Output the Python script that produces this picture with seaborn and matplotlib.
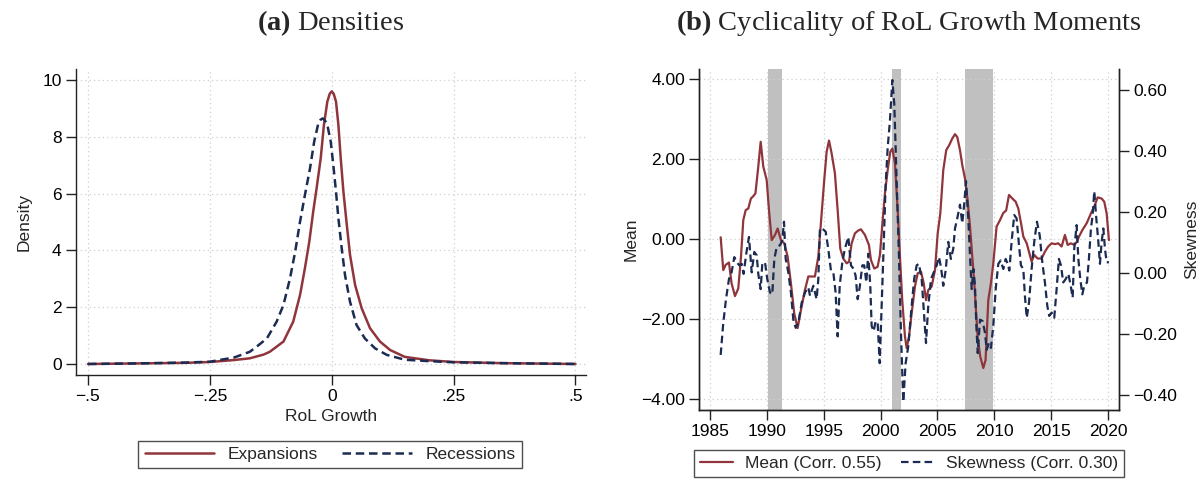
import numpy as np
import pandas as pd
import matplotlib
matplotlib.use("Agg")
import matplotlib.pyplot as plt
import seaborn as sns
from matplotlib.ticker import FixedLocator, FixedFormatter

# ---------------- data ----------------
# Panel (a): densities of RoL growth
growth_exp = [-0.5, -0.4, -0.3, -0.25, -0.2, -0.168, -0.14, -0.127, -0.099, -0.079, -0.065,
              -0.055, -0.046, -0.038, -0.031, -0.0226, -0.016, -0.009, -0.004, 0.0, 0.004,
              0.0088, 0.0137, 0.0185, 0.024, 0.031, 0.0376, 0.048, 0.0615, 0.0786, 0.099,
              0.12, 0.15, 0.2, 0.25, 0.35, 0.5]
dens_exp = [0.0, 0.02, 0.04, 0.07, 0.14, 0.2, 0.33, 0.43, 0.79, 1.49, 2.43,
            3.37, 4.31, 5.36, 6.19, 7.24, 8.42, 9.24, 9.52, 9.6, 9.52,
            9.24, 8.42, 7.24, 6.07, 4.89, 3.84, 2.78, 1.96, 1.26, 0.79,
            0.49, 0.25, 0.13, 0.07, 0.03, 0.0]

growth_rec = [-0.5, -0.4, -0.3, -0.25, -0.2, -0.168, -0.154, -0.133, -0.113, -0.099, -0.0855,
              -0.075, -0.065, -0.055, -0.0445, -0.036, -0.0275, -0.023, -0.0185, -0.014,
              -0.009, -0.002, 0.0033, 0.0088, 0.0137, 0.0205, 0.0273, 0.0376, 0.051, 0.068,
              0.089, 0.113, 0.15, 0.2, 0.25, 0.35, 0.5]
dens_rec = [0.0, 0.02, 0.05, 0.08, 0.23, 0.43, 0.61, 0.9, 1.49, 2.08, 3.02,
            3.95, 5.01, 5.95, 6.89, 7.83, 8.47, 8.6, 8.65, 8.58,
            8.42, 7.83, 7.0, 6.07, 5.13, 4.07, 3.13, 2.19, 1.37, 0.9,
            0.55, 0.32, 0.15, 0.1, 0.06, 0.03, 0.0]

# Panel (b): cyclicality of RoL growth moments
mean_year = [1985.94, 1986.17, 1986.38, 1986.67, 1986.9, 1987.2, 1987.49, 1987.73, 1987.93,
             1988.14, 1988.37, 1988.6, 1988.81, 1989.0, 1989.25, 1989.46, 1989.69, 1989.99,
             1990.19, 1990.43, 1990.72, 1990.95, 1991.24, 1991.53, 1991.83, 1992.12, 1992.41,
             1992.71, 1993.0, 1993.35, 1993.65, 1994.23, 1994.53, 1994.82, 1995.05, 1995.26,
             1995.47, 1995.7, 1995.99, 1996.23, 1996.46, 1996.72, 1997.02, 1997.23, 1997.46,
             1997.75, 1998.04, 1998.28, 1998.63, 1998.98, 1999.16, 1999.45, 1999.74, 1999.95,
             2000.19, 2000.39, 2000.63, 2000.86, 2001.04, 2001.27, 2001.51, 2001.71, 2001.91,
             2002.15, 2002.3, 2002.5, 2002.74, 2003.03, 2003.27, 2003.56, 2003.8, 2004.0,
             2004.2, 2004.5, 2004.79, 2005.03, 2005.26, 2005.52, 2005.78, 2006.05, 2006.31,
             2006.55, 2006.75, 2006.99, 2007.19, 2007.43, 2007.66, 2007.87, 2008.07, 2008.25,
             2008.4, 2008.54, 2008.77, 2009.04, 2009.24, 2009.48, 2009.71, 2009.92, 2010.21,
             2010.51, 2010.8, 2011.05, 2011.3, 2011.6, 2011.89, 2012.12, 2012.36, 2012.56,
             2012.86, 2013.06, 2013.29, 2013.52, 2013.82, 2014.17, 2014.46, 2014.75, 2015.05,
             2015.34, 2015.63, 2015.93, 2016.22, 2016.46, 2016.75, 2017.04, 2017.28, 2017.46,
             2017.75, 2018.13, 2018.51, 2018.8, 2019.1, 2019.45, 2019.68, 2019.89, 2020.09]
mean_val = [0.05, -0.77, -0.64, -0.58, -1.10, -1.42, -1.23, -0.43, 0.48,
            0.73, 0.77, 1.02, 1.08, 1.15, 1.82, 2.44, 1.82, 1.48,
            0.73, -0.02, 0.11, 0.27, -0.02, -0.10, -0.43, -1.10, -1.85,
            -2.22, -1.77, -1.27, -0.93, -0.93, -0.43, 0.65, 1.48, 2.19,
            2.47, 2.15, 1.65, 0.73, -0.23, -0.48, -0.60, -0.56, -0.10,
            0.15, 0.22, 0.25, 0.11, -0.14, -0.52, -0.73, -0.69, -0.39,
            0.48, 1.15, 1.73, 2.19, 2.27, 1.90, 0.73, -0.43, -1.52,
            -2.43, -2.72, -2.45, -1.85, -1.18, -0.85, -0.81, -1.10, -1.52,
            -1.27, -1.18, -0.77, 0.15, 0.65, 1.73, 2.23, 2.36, 2.52,
            2.63, 2.56, 2.23, 1.86, 1.52, 0.98, 0.32, -0.43, -1.10,
            -1.77, -2.43, -2.93, -3.22, -3.02, -1.52, -1.10, -0.60, 0.32,
            0.48, 0.66, 0.72, 1.11, 1.02, 0.94, 0.77, 0.40, 0.07,
            -0.10, -0.31, -0.56, -0.39, -0.48, -0.48, -0.31, -0.18, -0.10,
            -0.12, -0.10, -0.18, 0.11, -0.14, -0.10, -0.14, -0.06, 0.07,
            0.23, 0.40, 0.65, 0.82, 1.05, 1.02, 0.94, 0.65, -0.02]

skew_year = [1985.94, 1986.17, 1986.41, 1986.67, 1986.9, 1987.14, 1987.35, 1987.58, 1987.79,
             1987.96, 1988.19, 1988.43, 1988.67, 1988.9, 1989.11, 1989.25, 1989.46, 1989.6,
             1989.84, 1990.04, 1990.28, 1990.48, 1990.66, 1990.87, 1991.16, 1991.36, 1991.51,
             1991.66, 1991.89, 1992.12, 1992.33, 1992.54, 1992.77, 1993.07, 1993.36, 1993.65,
             1993.8, 1994.09, 1994.38, 1994.53, 1994.67, 1994.88, 1995.18, 1995.4, 1995.64,
             1995.85, 1996.05, 1996.23, 1996.41, 1996.64, 1996.87, 1997.17, 1997.4, 1997.64,
             1997.81, 1997.99, 1998.17, 1998.4, 1998.57, 1998.75, 1998.92, 1999.1, 1999.22,
             1999.4, 1999.57, 1999.75, 1999.93, 2000.1, 2000.28, 2000.45, 2000.63, 2000.83,
             2001.04, 2001.21, 2001.42, 2001.62, 2001.8, 2002.0, 2002.21, 2002.44, 2002.74,
             2002.96, 2003.18, 2003.38, 2003.62, 2003.82, 2004.0, 2004.2, 2004.44, 2004.68,
             2004.94, 2005.14, 2005.32, 2005.52, 2005.73, 2005.96, 2006.19, 2006.4, 2006.55,
             2006.75, 2006.99, 2007.19, 2007.37, 2007.52, 2007.72, 2007.9, 2008.02, 2008.17,
             2008.31, 2008.43, 2008.55, 2008.75, 2008.99, 2009.19, 2009.34, 2009.54, 2009.71,
             2009.92, 2010.13, 2010.36, 2010.57, 2010.8, 2011.01, 2011.18, 2011.33, 2011.53,
             2011.76, 2011.97, 2012.18, 2012.35, 2012.56, 2012.7, 2012.86, 2013.06, 2013.29,
             2013.52, 2013.76, 2014.0, 2014.23, 2014.46, 2014.67, 2014.84, 2015.05, 2015.28,
             2015.49, 2015.69, 2015.87, 2016.07, 2016.29, 2016.52, 2016.73, 2016.9, 2017.04,
             2017.25, 2017.4, 2017.57, 2017.75, 2017.92, 2018.16, 2018.33, 2018.51, 2018.66,
             2018.8, 2018.98, 2019.16, 2019.3, 2019.45, 2019.6, 2019.74, 2019.89, 2020.09]
skew_val = [-0.269, -0.164, -0.086, -0.020, 0.002, 0.052, 0.035, 0.025, 0.030,
            -0.003, 0.063, 0.118, 0.002, 0.069, 0.058, -0.003, -0.053, 0.030,
            0.035, -0.020, -0.064, -0.070, 0.046, 0.085, 0.091, 0.107, 0.168,
            0.046, 0.002, -0.064, -0.153, -0.180, -0.164, -0.097, -0.064, -0.047,
            -0.075, -0.042, -0.086, -0.020, 0.146, 0.146, 0.135, 0.080, 0.008,
            0.002, -0.064, -0.208, -0.042, 0.035, 0.080, 0.118, 0.025, 0.013,
            -0.009, -0.086, -0.047, 0.025, 0.025, -0.031, 0.063, -0.042, -0.174,
            -0.191, -0.158, -0.164, -0.296, -0.108, 0.091, 0.290, 0.411, 0.500,
            0.633, 0.555, 0.301, 0.058, -0.197, -0.423, -0.296, -0.241, -0.108,
            -0.020, 0.025, 0.030, -0.020, -0.130, -0.230, -0.108, -0.020, 0.002,
            0.025, 0.052, 0.019, -0.042, 0.008, 0.102, 0.046, 0.080, 0.146,
            0.179, 0.224, 0.163, 0.229, 0.301, 0.179, 0.035, -0.053, 0.013,
            -0.042, -0.174, -0.263, -0.153, -0.158, -0.197, -0.252, -0.230, -0.246,
            -0.174, -0.053, 0.030, 0.041, 0.013, 0.046, 0.030, 0.008, 0.102,
            0.190, 0.179, 0.091, 0.025, 0.013, -0.075, -0.147, -0.097, 0.013,
            0.102, 0.168, 0.124, 0.035, -0.031, -0.108, -0.141, -0.130, -0.147,
            -0.053, 0.046, 0.025, -0.031, -0.020, -0.003, -0.042, -0.081, 0.080,
            0.157, 0.046, -0.020, -0.070, -0.042, -0.031, 0.046, 0.146, 0.190,
            0.268, 0.179, 0.102, 0.030, 0.102, 0.146, 0.080, 0.035, 0.035]

recession_start = [1990.13, 2000.98, 2007.45]
recession_end = [1991.30, 2001.77, 2009.86]

x_ticks_a = [-0.5, -0.25, 0, 0.25, 0.5]
x_labels_a = ["\u2212.5", "\u2212.25", "0", ".25", ".5"]
y_ticks_a = [0, 2, 4, 6, 8, 10]
year_ticks = [1985, 1990, 1995, 2000, 2005, 2010, 2015, 2020]
mean_ticks = [-4, -2, 0, 2, 4]
skew_ticks = [-0.4, -0.2, 0.0, 0.2, 0.4, 0.6]

# ---------------- style ----------------
sns.set_theme(style="ticks")
plt.rcParams['font.family'] = ['Liberation Sans', 'DejaVu Sans']
plt.rcParams['mathtext.fontset'] = 'custom'
plt.rcParams['mathtext.rm'] = 'Liberation Serif'
plt.rcParams['mathtext.bf'] = 'Liberation Serif:bold'
plt.rcParams['axes.unicode_minus'] = True

RED = "#90353B"
NAVY = "#1C2B52"
GRID = "#cfcfcf"
FS = 12.5
DASH = (0, (3.4, 1.9))
LW = 1.6

fig = plt.figure(figsize=(12.03, 4.8), dpi=100)

def fmt(v, nd):
    s = f"{v:.{nd}f}"
    return s.replace("-", "\u2212")

def style_axes(ax):
    ax.tick_params(axis='both', which='major', direction='out', length=7, width=1,
                   labelsize=FS, color='#222222', labelcolor='black', pad=3)
    for s in ax.spines.values():
        s.set_linewidth(1.0)
        s.set_color('#222222')

# ---------------- panel (a) ----------------
ax1 = fig.add_axes([0.0628, 0.2188, 0.4243, 0.6375])
sns.lineplot(x=growth_exp, y=dens_exp, ax=ax1, color=RED, lw=LW + 0.2,
             label="Expansions", legend=False, errorbar=None)
sns.lineplot(x=growth_rec, y=dens_rec, ax=ax1, color=NAVY, lw=LW + 0.2,
             label="Recessions", legend=False, errorbar=None, linestyle=DASH)
ax1.set_xlim(-0.5255, 0.5216)
ax1.set_ylim(-0.387, 10.39)
ax1.xaxis.set_major_locator(FixedLocator(x_ticks_a))
ax1.xaxis.set_major_formatter(FixedFormatter(x_labels_a))
ax1.yaxis.set_major_locator(FixedLocator(y_ticks_a))
ax1.set_yticklabels([str(v) for v in y_ticks_a])
ax1.grid(True, color=GRID, linestyle=(0, (1, 2.5)), linewidth=0.9)
ax1.spines['top'].set_visible(False)
ax1.spines['right'].set_visible(False)
style_axes(ax1)
ax1.set_xlabel("RoL Growth", fontsize=FS, labelpad=4)
ax1.set_ylabel("Density", fontsize=FS, labelpad=8)

h1, l1 = ax1.get_legend_handles_labels()
leg1 = fig.legend(h1, l1, loc='upper center', bbox_to_anchor=(0.2745, 0.081), ncol=2,
                  fontsize=FS, frameon=True, fancybox=False, edgecolor='#222222',
                  handlelength=4.0, columnspacing=1.4, handletextpad=0.8,
                  borderpad=0.35, borderaxespad=0)
leg1.get_frame().set_linewidth(1.0)

# ---------------- panel (b) ----------------
ax2 = fig.add_axes([0.5810, 0.1458, 0.3494, 0.7104])
ax3 = ax2.twinx()
for s0, s1 in zip(recession_start, recession_end):
    ax2.axvspan(s0, s1, color='#c0c0c0', lw=0, zorder=0)
sns.lineplot(x=mean_year, y=mean_val, ax=ax2, color=RED, lw=LW,
             label="Mean (Corr. 0.55)", legend=False, errorbar=None, zorder=3)
sns.lineplot(x=skew_year, y=skew_val, ax=ax3, color=NAVY, lw=LW,
             label="Skewness (Corr. 0.30)", legend=False, errorbar=None,
             linestyle=DASH, zorder=3)
ax2.set_xlim(1984.03, 2021.0)
ax2.set_ylim(-4.27, 4.26)
ax3.set_ylim(-0.4496, 0.669)
ax2.xaxis.set_major_locator(FixedLocator(year_ticks))
ax2.set_xticklabels([str(y) for y in year_ticks])
ax2.yaxis.set_major_locator(FixedLocator(mean_ticks))
ax2.yaxis.set_major_formatter(FixedFormatter([fmt(v, 2) for v in mean_ticks]))
ax3.yaxis.set_major_locator(FixedLocator(skew_ticks))
ax3.yaxis.set_major_formatter(FixedFormatter([fmt(v, 2) for v in skew_ticks]))
ax2.grid(True, color=GRID, linestyle=(0, (1, 2.5)), linewidth=0.9)
ax3.grid(False)
ax2.set_axisbelow(True)
ax2.spines['top'].set_visible(False)
ax3.spines['top'].set_visible(False)
style_axes(ax2)
style_axes(ax3)
ax2.set_xlabel("")
ax2.set_ylabel("Mean", fontsize=FS, labelpad=2)
ax3.set_ylabel("Skewness", fontsize=FS, labelpad=5, rotation=90)

h2 = ax2.get_lines()[-1:] + ax3.get_lines()[-1:]
l2 = ["Mean (Corr. 0.55)", "Skewness (Corr. 0.30)"]
leg2 = fig.legend(h2, l2, loc='upper center', bbox_to_anchor=(0.7555, 0.0625), ncol=2,
                  fontsize=FS, frameon=True, fancybox=False, edgecolor='#222222',
                  handlelength=1.9, columnspacing=1.1, handletextpad=0.7,
                  borderpad=0.35, borderaxespad=0)
leg2.get_frame().set_linewidth(1.0)

# ---------------- titles ----------------
fig.text(0.2745, 0.952, r"$\mathbf{(a)}$ Densities", ha='center', va='center',
         fontsize=20.5, family='Liberation Serif')
fig.text(0.7555, 0.952, r"$\mathbf{(b)}$ Cyclicality of RoL Growth Moments", ha='center',
         va='center', fontsize=20.5, family='Liberation Serif')

fig.savefig("out.png", dpi=100)
